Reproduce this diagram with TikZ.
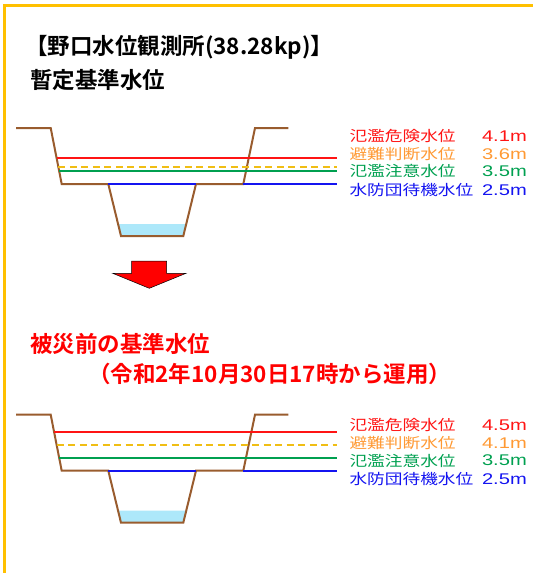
\documentclass[tikz,border=0pt]{standalone}
\usepackage{fontspec}
\setmainfont{Noto Sans CJK JP}
\newfontfamily\jpfont[BoldFont={Noto Sans CJK JP Bold}]{Noto Sans CJK JP}
\newfontfamily\legendfont[FakeStretch=1.22]{Noto Sans CJK JP}
\newfontfamily\numfont[FakeStretch=1.3]{Liberation Sans}
\usetikzlibrary{calc}

\definecolor{bank}{RGB}{153,92,46}
\definecolor{water}{RGB}{173,232,250}
\definecolor{framecol}{RGB}{255,192,0}
\definecolor{lvred}{RGB}{255,20,20}
\definecolor{lvorange}{RGB}{255,153,51}
\definecolor{lvyellow}{RGB}{240,190,20}
\definecolor{lvgreen}{RGB}{0,160,80}
\definecolor{lvblue}{RGB}{20,20,240}

\begin{document}
\begin{tikzpicture}
  [x=1pt,y=-1pt,
   title/.style={font=\jpfont\bfseries\fontsize{22.5}{27}\selectfont,
     inner sep=0pt, anchor=west},
   legend/.style={font=\legendfont\fontsize{14.5}{17}\selectfont,
     inner sep=0pt, anchor=west},
   value/.style={font=\numfont\fontsize{15.5}{17}\selectfont,
     inner sep=0pt, anchor=east},
   bankline/.style={draw=bank, line width=2pt, line join=miter},
   level/.style={line width=2pt}]
  \useasboundingbox (0,0) rectangle (533,573);
  \def \depth {56}   % bank top above the floodplain
  \def \ch {52}      % channel depth below the floodplain
  \def \wl {40}      % water surface below the floodplain
  \def \lx {349.3}   % left edge of the legend
  \def \ex {337}     % end of the level lines

  % frame
  \draw[framecol, line width=3pt] (4,573) -- (4,5) -- (533,5);

  % titles
  \node[title] (station) at (25,47.5) {【野口水位観測所(38.28kp)】};
  \node[title] (interim) at (30,80) {暫定基準水位};
  \node[title, text=red] (before) at (30,344) {被災前の基準水位};
  \node[title, text=red] (since) at (88,374) {（令和2年10月30日17時から運用）};

  % arrow between the two panels
  \draw[fill=red, draw=black, line width=0.5pt]
    (131.7,261) -- (166.7,261) -- (166.7,273.3) -- (186,273.3)
    -- (149.3,288.3) -- (112.7,273.3) -- (131.7,273.3) -- cycle;

  \foreach \p/\fy/\dr/\dy/\dg/\vr/\vy/\ly in
    {up/184/26.3/16.7/13/4.1/3.6/135.7, low/470.7/38.4/25.7/12.4/4.5/4.1/425}
  {
    \coordinate (\p-cl) at (108.3,\fy);
    \coordinate (\p-cr) at (196,\fy);
    \coordinate (\p-fr) at (243.3,\fy);
    % water in the low channel
    \fill[water] (118.1,\fy+\wl) -- (186.2,\fy+\wl) -- (183.3,\fy+\ch)
      -- (121,\fy+\ch) -- cycle;
    % banks and channel
    \draw[bankline] (16,\fy-\depth) -- (50.7,\fy-\depth) -- (61.7,\fy)
      -- (\p-cl) -- (121,\fy+\ch) -- (183.3,\fy+\ch) -- (\p-cr)
      -- (\p-fr) -- (255,\fy-\depth) -- (288.3,\fy-\depth);
    % level lines
    \draw[level, lvred] ({50.7+11*(1-\dr/\depth)},\fy-\dr) -- (\ex,\fy-\dr);
    \draw[level, lvyellow, dash pattern=on 7pt off 4.5pt]
      ({50.7+11*(1-\dy/\depth)},\fy-\dy) -- (\ex,\fy-\dy);
    \draw[level, lvgreen] ({50.7+11*(1-\dg/\depth)},\fy-\dg) -- (\ex,\fy-\dg);
    \draw[level, lvblue] (\p-cl) -- (\p-cr);
    \draw[level, lvblue] (\p-fr) -- (\ex,\fy);
    % legend
    \node[legend, text=lvred] (\p-rname) at (\lx,\ly) {氾濫危険水位};
    \node[legend, text=lvorange] (\p-yname) at (\lx,\ly+18) {避難判断水位};
    \node[legend, text=lvgreen] (\p-gname) at (\lx,\ly+35.5) {氾濫注意水位};
    \node[legend, text=lvblue] (\p-bname) at (\lx,\ly+54) {水防団待機水位};
    \node[value, text=lvred] (\p-rval) at (527,\ly) {\vr m};
    \node[value, text=lvorange] (\p-yval) at (527,\ly+18) {\vy m};
    \node[value, text=lvgreen] (\p-gval) at (527,\ly+35.5) {3.5m};
    \node[value, text=lvblue] (\p-bval) at (527,\ly+54) {2.5m};
  }
\end{tikzpicture}
\end{document}
